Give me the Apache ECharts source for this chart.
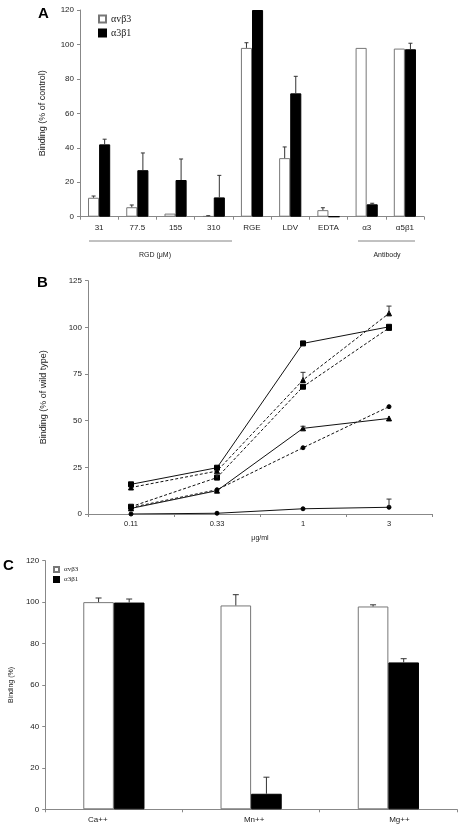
<!DOCTYPE html>
<html>
<head>
<meta charset="utf-8">
<script src="https://cdn.jsdelivr.net/npm/echarts@6/dist/echarts.min.js"></script>
<style>html,body{margin:0;padding:0;background:#fff;}#c{width:462px;height:827px;}</style>
</head>
<body>
<div id="c"></div>
<script>
// ---- Panel A data ----
const catsA = ['31','77.5','155','310','RGE','LDV','EDTA','α3','α5β1'];
const avb3A = [11, 5.5, 1.8, 0.3, 98, 34, 3.8, 98, 97.6];
const a3b1A = [42, 27, 21.3, 11.2, 120, 71.6, 0, 7.2, 97.2];
const avb3ErrA = [12, 6.8, null, 0.6, 101, 40.5, 5.2, null, null];
const a3b1ErrA = [45, 37, 33.5, 24, null, 81.5, null, 7.8, 100.7];
const ticksA = [0, 20, 40, 60, 80, 100, 120];

// ---- Panel B data ----
const catsB = ['0.11','0.33','1','3'];
const b1 = [15.9, 24.8, 91.4, 100.3];   // solid, square
const b2 = [14.2, 23.0, 71.8, 107.5];   // dashed, triangle
const b3 = [3.9, 19.5, 68.2, 99.7];     // dashed, square
const b4 = [3.0, 12.5, 45.9, 51.2];     // solid, triangle
const b5 = [3.5, 13.0, 35.5, 57.5];     // dashed, circle
const b6 = [0, 0.4, 2.8, 3.6];          // solid, circle
const b2Err = [null, null, 75.9, 111.4];
const b3Err = [null, 21.5, null, null];
const b4Err = [null, null, 47.0, null];
const b6Err = [null, null, null, 8.0];
const ticksB = [0, 25, 50, 75, 100, 125];

// ---- Panel C data ----
const catsC = ['Ca++','Mn++','Mg++'];
const avb3C = [100, 98.4, 97.9];
const a3b1C = [99.8, 7.5, 70.9];
const avb3ErrC = [102, 103.6, 98.7];
const a3b1ErrC = [101.5, 15.5, 72.7];
const ticksC = [0, 20, 40, 60, 80, 100, 120];

const FONT = 'Liberation Sans, Arial, sans-serif';
const AXC = '#888';
const TXT = '#222';

function errData(vals, errs) {
  const out = [];
  errs.forEach((e, i) => { if (e != null) out.push([i, vals[i], e]); });
  return out;
}
function errSeries(xi, yi, vals, errs, frac, sign, cap) {
  return {
    type: 'custom', xAxisIndex: xi, yAxisIndex: yi, silent: true, z: 5,
    encode: { x: 0, y: [1, 2] },
    data: errData(vals, errs),
    renderItem: function (params, api) {
      const i = api.value(0);
      const bw = api.size([1, 0])[0];
      const off = sign * bw * frac / 2;
      const p0 = api.coord([i, api.value(1)]);
      const p1 = api.coord([i, api.value(2)]);
      const x = p0[0] + off;
      return {
        type: 'group',
        children: [
          { type: 'line', shape: { x1: x, y1: p0[1], x2: x, y2: p1[1] }, style: { stroke: '#333', lineWidth: 1 } },
          { type: 'line', shape: { x1: x - cap, y1: p1[1], x2: x + cap, y2: p1[1] }, style: { stroke: '#333', lineWidth: 1 } }
        ]
      };
    }
  };
}

function yAx(gi, max, interval, name, nameGap, nameSize) {
  return {
    type: 'value', gridIndex: gi, min: 0, max: max, interval: interval,
    name: name, nameLocation: 'middle', nameGap: nameGap,
    nameTextStyle: { fontFamily: FONT, fontSize: nameSize, color: TXT },
    axisLine: { show: true, lineStyle: { color: AXC, width: 1 } },
    axisTick: { show: true, length: 3, lineStyle: { color: AXC } },
    axisLabel: { fontFamily: FONT, fontSize: 8, color: TXT, margin: 6 },
    splitLine: { show: false }
  };
}
function xAx(gi, cats, extra) {
  return Object.assign({
    type: 'category', gridIndex: gi, data: cats,
    axisLine: { show: true, lineStyle: { color: AXC, width: 1 } },
    axisTick: { show: true, length: 3, lineStyle: { color: AXC } },
    axisLabel: { fontFamily: FONT, fontSize: 8, color: TXT, margin: 7 },
    splitLine: { show: false }
  }, extra || {});
}

const whiteStyle = { color: '#fff', borderColor: '#777', borderWidth: 1 };
const blackStyle = { color: '#000', borderColor: '#000', borderWidth: 1 };

function lineS(data, dashed, symbol) {
  return {
    type: 'line', xAxisIndex: 1, yAxisIndex: 1, data: data,
    symbol: symbol, symbolSize: symbol === 'circle' ? 4 : 5,
    lineStyle: { color: '#111', width: 1, type: dashed ? [3, 2] : 'solid' },
    itemStyle: { color: '#000', borderColor: '#000' },
    silent: true
  };
}

const chart = echarts.init(document.getElementById('c'), null, { renderer: 'canvas' });
chart.setOption({
  animation: false,
  backgroundColor: '#fff',
  grid: [
    { left: 80, top: 10, width: 344, height: 206.7 },
    { left: 88, top: 280.7, width: 344, height: 233.3 },
    { left: 39, top: 560.7, width: 418, height: 248.6 }
  ],
  legend: [
    {
      data: ['αvβ3', 'α3β1'], orient: 'vertical', left: 93, top: 9,
      itemWidth: 7, itemHeight: 7, itemGap: 4, icon: 'rect',
      textStyle: { fontFamily: 'Liberation Serif, serif', fontSize: 10, color: TXT }, selectedMode: false
    },
    {
      data: ['αvβ3', 'α3β1'], orient: 'vertical', left: 48, top: 561,
      itemWidth: 5, itemHeight: 5, itemGap: 3, icon: 'rect',
      textStyle: { fontFamily: 'Liberation Serif, serif', fontSize: 7, color: TXT }, selectedMode: false
    }
  ],
  xAxis: [
    xAx(0, catsA),
    xAx(1, catsB, { name: 'μg/ml', nameLocation: 'middle', nameGap: 21,
      nameTextStyle: { fontFamily: FONT, fontSize: 7, color: TXT },
      axisLabel: { fontFamily: FONT, fontSize: 7.5, color: TXT, margin: 6 } }),
    xAx(2, catsC, {
      axisLabel: {
        fontFamily: FONT, fontSize: 8, color: TXT, margin: 6,
        formatter: function (v) {
          if (v === 'Ca++') return '{l|' + v + '}';
          if (v === 'Mg++') return '{r|' + v + '}';
          return '{m|' + v + '}';
        },
        rich: {
          l: { fontFamily: FONT, fontSize: 8, color: TXT, padding: [0, 32, 0, 0] },
          m: { fontFamily: FONT, fontSize: 8, color: TXT, padding: [0, 0, 0, 6] },
          r: { fontFamily: FONT, fontSize: 8, color: TXT, padding: [0, 0, 0, 22] }
        }
      }
    })
  ],
  yAxis: [
    yAx(0, ticksA[ticksA.length - 1], ticksA[1] - ticksA[0], 'Binding (% of control)', 33, 9),
    yAx(1, ticksB[ticksB.length - 1], ticksB[1] - ticksB[0], 'Binding (% of wild type)', 40, 9),
    yAx(2, ticksC[ticksC.length - 1], ticksC[1] - ticksC[0], 'Binding (%)', 22, 7)
  ],
  series: [
    { name: 'αvβ3', type: 'bar', xAxisIndex: 0, yAxisIndex: 0, data: avb3A, barWidth: '29%', barGap: '0%', itemStyle: whiteStyle, silent: true },
    { name: 'α3β1', type: 'bar', xAxisIndex: 0, yAxisIndex: 0, data: a3b1A, barWidth: '29%', barGap: '0%', itemStyle: blackStyle, silent: true },
    errSeries(0, 0, avb3A, avb3ErrA, 0.29, -1, 2),
    errSeries(0, 0, a3b1A, a3b1ErrA, 0.29, 1, 2),

    lineS(b1, false, 'rect'),
    lineS(b2, true, 'triangle'),
    lineS(b3, true, 'rect'),
    lineS(b4, false, 'triangle'),
    lineS(b5, true, 'circle'),
    lineS(b6, false, 'circle'),
    errSeries(1, 1, b2, b2Err, 0, 0, 2.5),
    errSeries(1, 1, b3, b3Err, 0, 0, 2.5),
    errSeries(1, 1, b4, b4Err, 0, 0, 2.5),
    errSeries(1, 1, b6, b6Err, 0, 0, 2.5),

    { name: 'αvβ3', type: 'bar', xAxisIndex: 2, yAxisIndex: 2, data: avb3C, barWidth: '22.3%', barGap: '0%', itemStyle: whiteStyle, silent: true },
    { name: 'α3β1', type: 'bar', xAxisIndex: 2, yAxisIndex: 2, data: a3b1C, barWidth: '22.3%', barGap: '0%', itemStyle: blackStyle, silent: true },
    errSeries(2, 2, avb3C, avb3ErrC, 0.223, -1, 3),
    errSeries(2, 2, a3b1C, a3b1ErrC, 0.223, 1, 3)
  ],
  graphic: [
    { type: 'text', left: 38, top: 6, style: { text: 'A', font: 'bold 15px ' + FONT, fill: '#000' } },
    { type: 'text', left: 37, top: 275, style: { text: 'B', font: 'bold 15px ' + FONT, fill: '#000' } },
    { type: 'text', left: 3, top: 558, style: { text: 'C', font: 'bold 15px ' + FONT, fill: '#000' } },
    { type: 'line', shape: { x1: 89, y1: 241, x2: 232, y2: 241 }, style: { stroke: '#666', lineWidth: 0.8 } },
    { type: 'text', x: 155, y: 255, style: { text: 'RGD (μM)', font: '7px ' + FONT, fill: TXT, textAlign: 'center', textVerticalAlign: 'middle' } },
    { type: 'line', shape: { x1: 358, y1: 241, x2: 415, y2: 241 }, style: { stroke: '#666', lineWidth: 0.8 } },
    { type: 'text', x: 387, y: 255, style: { text: 'Antibody', font: '7px ' + FONT, fill: TXT, textAlign: 'center', textVerticalAlign: 'middle' } }
  ]
});
</script>
</body>
</html>
